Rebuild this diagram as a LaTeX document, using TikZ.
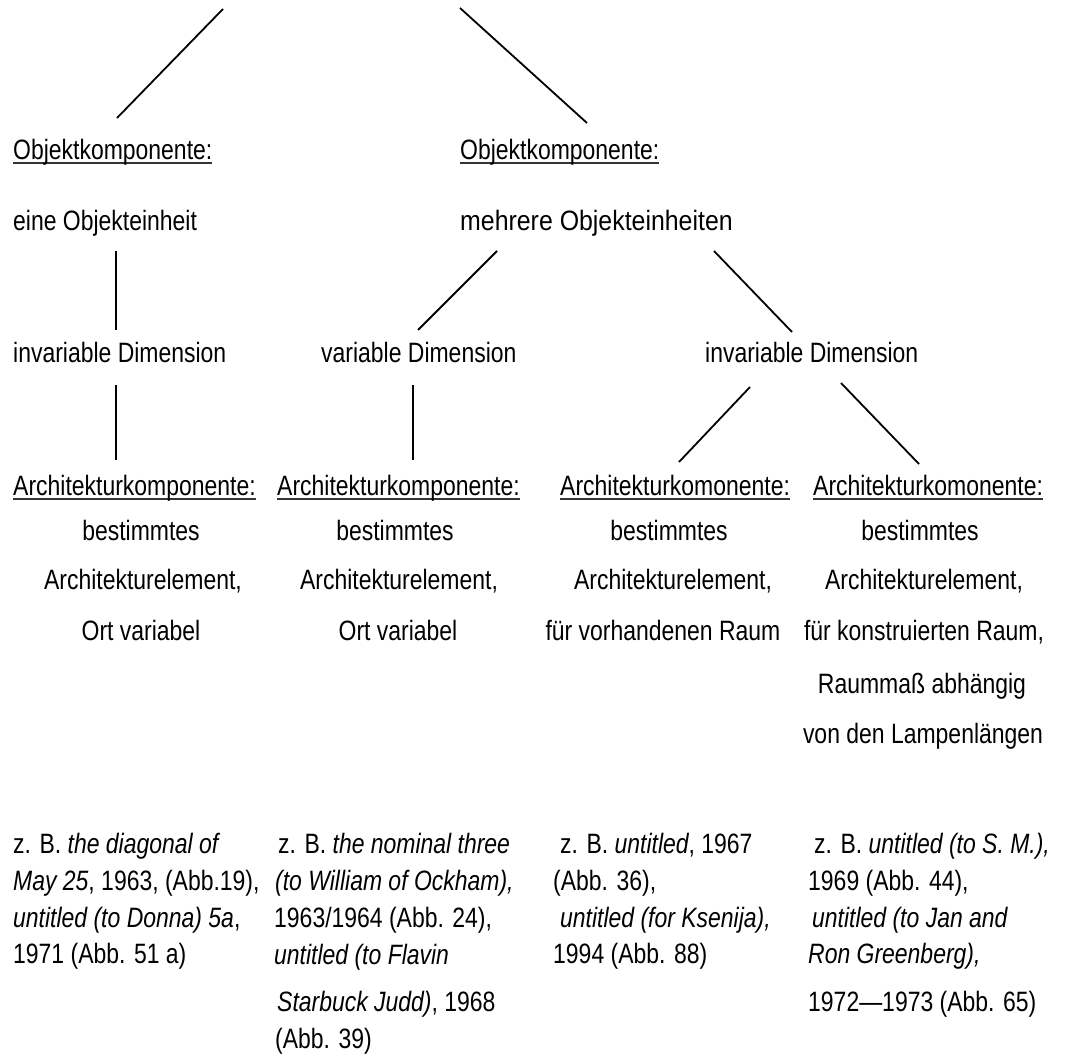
\documentclass[tikz,border=0pt]{standalone}
\usepackage{fontspec}
\usepackage{graphicx}
\setmainfont[FakeStretch=0.82]{Liberation Sans}
\newsavebox\ulbox
\newcommand\ulined[1]{\sbox\ulbox{#1}\rlap{\color{black!80}\vrule width\wd\ulbox height -3.2pt depth 4.8pt}\usebox\ulbox}
\tikzset{
  lbl/.style={inner sep=0pt,anchor=base west},
  ctr/.style={inner sep=0pt,anchor=base},
  link/.style={line width=1.8pt}
}

\begin{document}
\begin{tikzpicture}[x=1pt,y=-1pt,font=\fontsize{28}{34}\selectfont]
    \useasboundingbox (0,0) rectangle (1076,1057);

    % -- upper levels
    \coordinate (topL) at (223,9);
    \coordinate (topR) at (460,8);
    \node[lbl] (ok1)  at (13,159)  {\ulined{Objektkomponente:}};
    \node[lbl] (ok2)  at (460,159) {\ulined{Objektkomponente:}};
    \node[lbl] (eine) at (13,230)  {eine Objekteinheit};
    \node[lbl] (mehr) at (460,230) {\scalebox{1.084}[1]{mehrere Objekteinheiten}};
    \node[lbl] (invA) at (13,362)  {invariable Dimension};
    \node[lbl] (var)  at (321,362) {variable Dimension};
    \node[lbl] (invB) at (705,362) {invariable Dimension};

    % -- architecture components
    \node[lbl] (archA) at (13,495)  {\ulined{Architekturkomponente:}};
    \node[lbl] (archB) at (277,495) {\ulined{Architekturkomponente:}};
    \node[lbl] (archC) at (560,495) {\ulined{Architekturkomonente:}};
    \node[lbl] (archD) at (813,495) {\ulined{Architekturkomonente:}};

    \node[ctr] (bA1) at (141,540) {bestimmtes};
    \node[ctr] (bA2) at (143,589) {Architekturelement,};
    \node[ctr] (bA3) at (141,640) {Ort variabel};
    \node[ctr] (bB1) at (395,540) {bestimmtes};
    \node[ctr] (bB2) at (399,589) {Architekturelement,};
    \node[ctr] (bB3) at (398,640) {Ort variabel};
    \node[ctr] (bC1) at (669,540) {bestimmtes};
    \node[ctr] (bC2) at (673,589) {Architekturelement,};
    \node[ctr] (bC3) at (663,640) {für vorhandenen Raum};
    \node[ctr] (bD1) at (920,540) {bestimmtes};
    \node[ctr] (bD2) at (924,589) {Architekturelement,};
    \node[ctr] (bD3) at (924,640) {für konstruierten Raum,};
    \node[ctr] (bD4) at (922,693) {Raummaß abhängig};
    \node[ctr] (bD5) at (923,743) {von den Lampenlängen};

    % -- examples
    \node[lbl] (eA1) at (13,853) {z. B. \textit{the diagonal of}};
    \node[lbl] (eA2) at (13,890) {\textit{May 25}, 1963, (Abb.19),};
    \node[lbl] (eA3) at (13,927) {\textit{untitled (to Donna) 5a},};
    \node[lbl] (eA4) at (13,963) {1971 (Abb. 51 a)};
    \node[lbl] (eB1) at (278,853)  {z. B. \textit{the nominal three}};
    \node[lbl] (eB2) at (275,890)  {\textit{(to William of Ockham),}};
    \node[lbl] (eB3) at (274,927)  {1963/1964 (Abb. 24),};
    \node[lbl] (eB4) at (274,964)  {\textit{untitled (to Flavin}};
    \node[lbl] (eB5) at (277,1011) {\textit{Starbuck Judd)}, 1968};
    \node[lbl] (eB6) at (275,1048) {(Abb. 39)};
    \node[lbl] (eC1) at (560,853) {z. B. \textit{untitled}, 1967};
    \node[lbl] (eC2) at (553,890) {(Abb. 36),};
    \node[lbl] (eC3) at (560,927) {\textit{untitled (for Ksenija),}};
    \node[lbl] (eC4) at (553,963) {1994 (Abb. 88)};
    \node[lbl] (eD1) at (814,853)  {z. B. \textit{untitled (to S. M.),}};
    \node[lbl] (eD2) at (808,890)  {1969 (Abb. 44),};
    \node[lbl] (eD3) at (812,927)  {\textit{untitled (to Jan and}};
    \node[lbl] (eD4) at (808,963)  {\textit{Ron Greenberg),}};
    \node[lbl] (eD5) at (808,1011) {1972—1973 (Abb. 65)};

    % -- connecting lines
    \draw[link] (topL) -- ([xshift=104pt,yshift=41pt]ok1.base west);
    \draw[link] (topR) -- ([xshift=127pt,yshift=36pt]ok2.base west);
    \draw[link] ([xshift=103pt,yshift=-21pt]eine.base west) -- ([xshift=103pt,yshift=32pt]invA.base west);
    \draw[link] ([xshift=37pt,yshift=-21pt]mehr.base west) -- ([xshift=97pt,yshift=32pt]var.base west);
    \draw[link] ([xshift=254pt,yshift=-21pt]mehr.base west) -- ([xshift=87pt,yshift=30pt]invB.base west);
    \draw[link] ([xshift=103pt,yshift=-23pt]invA.base west) -- ([xshift=103pt,yshift=35pt]archA.base west);
    \draw[link] ([xshift=92pt,yshift=-23pt]var.base west) -- ([xshift=136pt,yshift=35pt]archB.base west);
    \draw[link] ([xshift=45pt,yshift=-25pt]invB.base west) -- ([xshift=119pt,yshift=33pt]archC.base west);
    \draw[link] ([xshift=136pt,yshift=-21pt]invB.base west) -- ([xshift=106pt,yshift=31pt]archD.base west);
\end{tikzpicture}
\end{document}
